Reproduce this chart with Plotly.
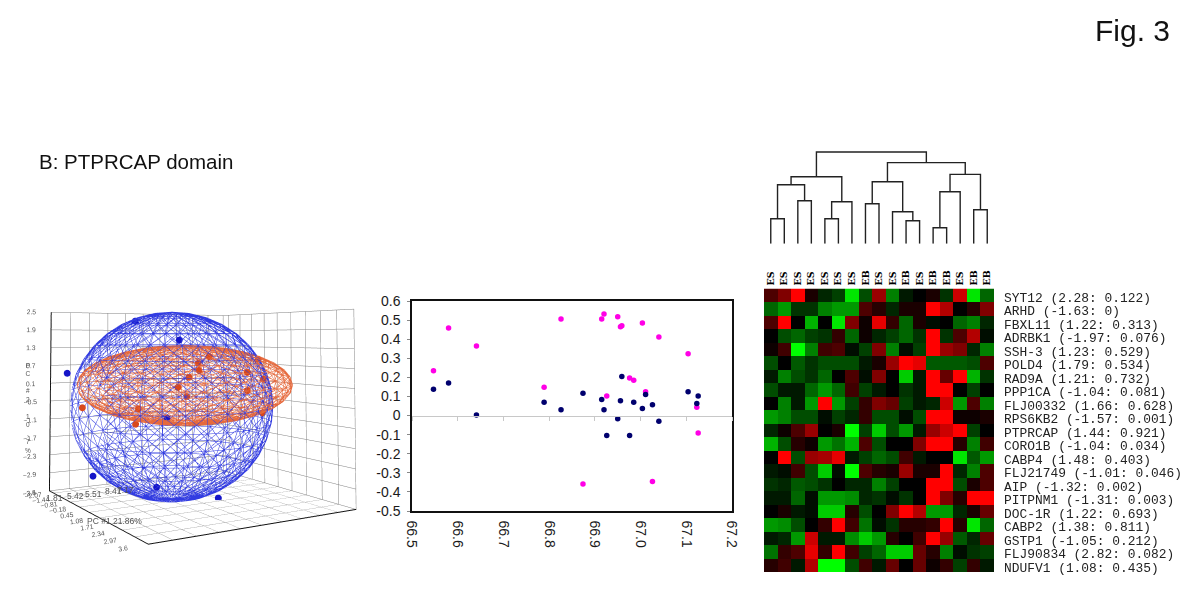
import numpy as np
import plotly.graph_objects as go

# ---------- data ----------
pc1_blue = [-0.207, 0.395, -1.14, -0.776, 0.088, 0.93, 0.225]
pc2_blue = [-1.67, -0.42, -3.59, -2.84, -1.05, 0.68, -0.76]
pc3_blue = [2.17, 1.56, 0.5, -2.76, -3.11, -3.45, -0.92]
pc1_orange = [-0.935, -0.196, -0.162, 0.509, 0.384, 0.532, 0.67, 0.657, 0.805, 1.475, 1.328, 1.544, 1.328, 1.532]
pc2_orange = [-3.15, -1.65, -1.57, -0.21, -0.46, -0.14, 0.14, 0.12, 0.43, 1.82, 1.51, 1.96, 1.51, 1.93]
pc3_orange = [-0.6, -1.12, -0.63, -0.24, 0.05, 0.37, 0.59, 0.82, 1.04, 0.95, 0.53, 0.31, -0.05, -0.76]
pc_x_ticks = [-2.4, -2.07, -1.44, -0.81, -0.18, 0.45, 1.08, 1.71, 2.34, 2.97, 3.6]
pc_z_ticks = [-3.5, -2.9, -2.3, -1.7, -1.1, -0.5, 0.1, 0.7, 1.3, 1.9, 2.5]
pc_y_tick_pos = [-3.42, -2.66, -1.95, -1.18, -0.72]
pc_y_tick_text = ["1.81", "5.42", "5.51", "8.41", "7.17"]

scatter_x = [66.547, 66.58, 66.641, 66.789, 66.826, 66.874, 66.915, 66.92, 66.926, 66.95, 66.956,
             66.959, 66.976, 66.985, 67.004, 67.011, 67.026, 67.04, 67.104, 67.123, 67.126]
magenta_y = [0.235, 0.459, 0.364, 0.148, 0.506, -0.359, 0.506, 0.532, 0.103, 0.518, 0.465,
             0.471, 0.197, 0.185, 0.485, 0.124, -0.345, 0.411, 0.324, 0.044, -0.091]
navy_y = [0.138, 0.171, 0.003, 0.070, 0.030, 0.117, 0.084, 0.030, -0.105, -0.017, 0.077,
          0.204, -0.105, 0.070, 0.037, 0.110, 0.056, -0.030, 0.124, 0.063, 0.103]
scatter_x_ticks = [66.5, 66.6, 66.7, 66.8, 66.9, 67.0, 67.1, 67.2]
scatter_y_ticks = [-0.5, -0.4, -0.3, -0.2, -0.1, 0, 0.1, 0.2, 0.3, 0.4, 0.5, 0.6]
scatter_y_text = ["-0.5", "-0.4", "-0.3", "-0.2", "-0.1", "0", "0.1", "0.2", "0.3", "0.4", "0.5", "0.6"]

columns = ["ES", "ES", "ES", "ES", "ES", "ES", "ES", "EB", "ES", "ES", "EB", "ES", "EB", "EB", "ES", "EB", "EB"]
genes = ["SYT12 (2.28: 0.122)", "ARHD (-1.63: 0)", "FBXL11 (1.22: 0.313)", "ADRBK1 (-1.97: 0.076)",
         "SSH-3 (1.23: 0.529)", "POLD4 (1.79: 0.534)", "RAD9A (1.21: 0.732)", "PPP1CA (-1.04: 0.081)",
         "FLJ00332 (1.66: 0.628)", "RPS6KB2 (-1.57: 0.001)", "PTPRCAP (1.44: 0.921)", "CORO1B (-1.04: 0.034)",
         "CABP4 (1.48: 0.403)", "FLJ21749 (-1.01: 0.046)", "AIP (-1.32: 0.002)", "PITPNM1 (-1.31: 0.003)",
         "DOC-1R (1.22: 0.693)", "CABP2 (1.38: 0.811)", "GSTP1 (-1.05: 0.212)", "FLJ90834 (2.82: 0.082)",
         "NDUFV1 (1.08: 0.435)"]
expression = [
    [3, 5, 10, 1, -1.5, -2.5, -9, -3, 6, -5, -1, 0, 1, -2, 8, -9, -4],
    [-4, -6, -2, -2, -5, -6, -6, 3, 1.5, -1.5, 1, 1, 10, 7, 0, 1.5, 5],
    [3, 10, 0, -7, 0, -9, 5, 0.5, 9, 2, -4, 1, -0.5, 0, -4, -5, -1.5],
    [0, -3, -4, -2.5, -2, 2, -4, 0.5, -1.5, -2.5, -4, -2, 10, -2, 3, 7, -0.5],
    [0.5, 2.5, -10, -5, 2.5, 3, -0.5, -2.5, 5, -5, -0.5, -2.5, 10, 6, 5, -1.5, -5],
    [-3, 0, -3.5, -2, -3, -3, -3, -1, 1, 6, 10, 9, -3.5, -3.5, -3.5, -3, 3],
    [-1, -5, -3, -2, -4, 0, 3, -0.5, 5, 0, -8, -1, 10, 4, 10, -7, -2],
    [-3, -1, -1, -4, -6, -4, 2.5, -2.5, -1, 0, -2, -1, 10, 10, 0, -2.5, 0],
    [0, -5, -1, -6, 10, -6, -2.5, 2, 5, 4, -2.5, -1, -1.5, 8, -6, 3, -5],
    [-6, -5, -3, -3, -0.5, -2.5, -1.5, 2, -3, -3, -0.5, -3, 10, 10, 0.5, 0.5, 1],
    [-1.5, 0.5, 3, 6, 0, 1, -10, -2.5, -8, -3, -6, -1, 6, 8, 10, -2.5, 0],
    [-7, -3, 1.5, 0.5, -6, -4.5, -7, 3, -3, 0, 0, 5, 10, 10, 1.5, -5, 2.5],
    [0, 10, -3, 6, 6.5, 9, -1, -2.5, -4, -3, 2.5, -1, 0, 0, -9, -3.5, -6],
    [-1, -0.5, 2.5, -3, -8, -0.5, -10, 3, 1.5, 1, 6, 1, 1, 10, -1.5, -5, 3],
    [-2, -1.5, -3.5, -3, -2, 0, -1.5, -1.5, -5, -2.5, 0, 0, 10, 10, -3, 1, 3],
    [-1, -1, -4, -0.5, -6, -6, -5.5, -1.5, -2, -0.5, -2, 0, 10, 5, 1.5, 10, 10],
    [0, 1, -1, -0.5, -8, -8, 1.5, -3, 0, 5, 10, 7, -6, -6, -1.5, 1, 4],
    [-6, -5.5, -3, 0, 2, 10, 2.5, -4.5, -0.5, -2, 1.5, 1.5, 2, 10, 1.5, -9, -4],
    [-1, -1.5, -6, 8, -1, -1, -5.5, -8, -6, 1.5, 0, 2.5, 10, 6, -3.5, -1.5, 4],
    [-4.5, 2, 3, 9, 2, 10, 2.5, -2.5, -4, -8, -8, 4, 1.5, -5, -0.5, -2, -2.5],
    [1.5, 2.5, -1, 7, -10, -10, -3, 2.5, -1, 4, 0, 4, 0.5, 2, -2.5, 2, -1],
]
# dendrogram merges: (left node, right node, height). Nodes 0-16 are leaves, 17+ earlier merges
merges = [
    (0, 1, 75), (2, 3, 129), (17, 18, 177), (4, 5, 75), (20, 6, 126), (19, 21, 201),
    (7, 8, 120), (10, 11, 69), (9, 24, 96), (23, 25, 186), (12, 13, 48), (27, 14, 156),
    (15, 16, 102), (28, 29, 208), (26, 30, 243), (22, 31, 275),
]

# ---------- figure ----------
W, H = 1200, 605
PAGE_OFFSET = 8  # the page body's default margin
def dom_x(a, b): return [max(a - PAGE_OFFSET, 0) / W, (b - PAGE_OFFSET) / W]
def dom_y(top, bottom): return [1 - (bottom - PAGE_OFFSET) / H, 1 - max(top - PAGE_OFFSET, 0) / H]
def px(a): return (a - PAGE_OFFSET) / W
def py(a): return 1 - (a - PAGE_OFFSET) / H

fig = go.Figure()

# 3D panel
def wire(cx, cy, cz, rx, ry, rz, n_lat, n_lon):
    xs, ys, zs = [], [], []
    lat = np.linspace(-np.pi / 2, np.pi / 2, n_lat + 1)
    lon = np.linspace(0, 2 * np.pi, n_lon + 1)
    def P(a, b):
        return (cx + rx * np.cos(a) * np.cos(b), cy + ry * np.cos(a) * np.sin(b), cz + rz * np.sin(a))
    def seg(p, q):
        xs.extend([p[0], q[0], None]); ys.extend([p[1], q[1], None]); zs.extend([p[2], q[2], None])
    for i in range(n_lat):
        for j in range(n_lon):
            a0, a1, b0, b1 = lat[i], lat[i + 1], lon[j], lon[j + 1]
            seg(P(a0, b0), P(a1, b0))
            seg(P(a1, b0), P(a1, b1))
            seg(P(a0, b0), P(a1, b1))
            seg(P(a0, b1), P(a1, b0))
    return xs, ys, zs

bx, by, bz = wire(0.293, -0.62, -0.52, 2.68, 3.32, 2.98, 18, 32)
fig.add_trace(go.Scatter3d(x=bx, y=by, z=bz, mode="lines", line=dict(color="rgb(50,60,225)", width=1),
                           hoverinfo="skip", scene="scene"))
ox, oy, oz = wire(0.475, -0.26, 0.146, 2.85, 3.52, 1.25, 16, 34)
fig.add_trace(go.Scatter3d(x=ox, y=oy, z=oz, mode="lines", line=dict(color="rgb(230,105,60)", width=1),
                           hoverinfo="skip", scene="scene"))
fig.add_trace(go.Scatter3d(x=pc1_blue, y=pc2_blue, z=pc3_blue, mode="markers",
                           marker=dict(color="#1414c8", size=4), scene="scene"))
fig.add_trace(go.Scatter3d(x=pc1_orange, y=pc2_orange, z=pc3_orange, mode="markers",
                           marker=dict(color="#d8481c", size=4), scene="scene"))

axis3d = dict(showbackground=True, backgroundcolor="#ffffff", gridcolor="#808080", linecolor="#111111",
              showline=True, linewidth=2, zeroline=False, title=dict(text=""), ticks="", showspikes=False,
              tickfont=dict(family="Liberation Sans", size=9, color="#555555"))
scene_annots = [dict(x=-2.39, y=v, z=-3.49, text=t, showarrow=False, yshift=-8,
                     font=dict(family="Liberation Sans", size=8.5, color="#555555"))
                for v, t in zip(pc_y_tick_pos, pc_y_tick_text)]
fig.update_layout(scene=dict(
    domain=dict(x=[0, 372 / W], y=[1 - 589 / H, 1]),
    xaxis=dict(axis3d, range=[-2.4, 3.6], tickvals=pc_x_ticks),
    yaxis=dict(axis3d, range=[-3.6, 3.6], dtick=0.72, showticklabels=False),
    zaxis=dict(axis3d, range=[-3.5, 2.5], tickvals=pc_z_ticks),
    aspectmode="manual", aspectratio=dict(x=0.95, y=0.92, z=0.79),
    camera=dict(eye=dict(x=2.58, y=-1.55, z=0.28), center=dict(x=0, y=0, z=0.43)),
    annotations=scene_annots,
))

# scatter panel
fig.add_trace(go.Scatter(x=scatter_x, y=magenta_y, mode="markers", xaxis="x", yaxis="y",
                         marker=dict(color="#ff00e6", size=5.5)))
fig.add_trace(go.Scatter(x=scatter_x, y=navy_y, mode="markers", xaxis="x", yaxis="y",
                         marker=dict(color="#00006e", size=5.5)))
sc_top, sc_bottom = 301, 511
tickfont = dict(family="Liberation Sans", size=14, color="#1a1a1a")
fig.update_layout(
    xaxis=dict(domain=dom_x(412, 732), range=[66.5, 67.2], tickvals=scatter_x_ticks, ticktext=[f"{v:.1f}" for v in scatter_x_ticks],
               tickangle=90, tickfont=tickfont, showgrid=False, zeroline=False, ticks="", anchor="y", ticklabelstandoff=5,
               showline=True, linecolor="#111111", linewidth=1.5, mirror=True, ticklen=0),
    yaxis=dict(domain=dom_y(sc_top, sc_bottom), range=[-0.5, 0.6], tickvals=scatter_y_ticks, ticktext=scatter_y_text,
               tickfont=tickfont, showgrid=False, zeroline=False, ticks="outside", ticklen=3, tickcolor="#888888",
               ticklabelstandoff=4, anchor="x", showline=True, linecolor="#111111", linewidth=1.5, mirror=True),
    # gray category axis crossing at y = 0
    xaxis2=dict(overlaying="x", matches="x", domain=dom_x(412, 732), anchor="free",
                position=py(sc_top + (sc_bottom - sc_top) * 0.6 / 1.1), side="bottom",
                tickvals=scatter_x_ticks, showticklabels=False, ticks="outside", ticklen=4, tickcolor="#c8c8c8",
                showline=True, linecolor="#c8c8c8", linewidth=1, showgrid=False, zeroline=False),
)
fig.add_trace(go.Scatter(x=[66.5, 67.2], y=[None, None], xaxis="x2", yaxis="y", mode="lines", hoverinfo="skip"))

# heatmap
fig.add_trace(go.Heatmap(z=expression, xaxis="x3", yaxis="y3", zmin=-10, zmax=10, showscale=False,
                         xgap=0, ygap=0,
                         colorscale=[[0, "#00ff00"], [0.5, "#000000"], [1, "#ff0000"]]))
hm_left, hm_right, hm_top, hm_bottom = 764, 994, 288.5, 572
fig.update_layout(
    xaxis3=dict(domain=dom_x(hm_left, hm_right), range=[-0.5, 16.5], anchor="y3", side="top",
                tickmode="array", tickvals=list(range(17)), ticktext=[f"<b>{c}</b>" for c in columns],
                tickangle=-90, ticks="", ticklen=0, ticklabelstandoff=2,
                tickfont=dict(family="DejaVu Serif", size=9.5, color="#000000"), showgrid=False, zeroline=False),
    yaxis3=dict(domain=dom_y(hm_top, hm_bottom), range=[20.5, -0.5], anchor="x3", visible=False),
)
annots = []
for i, g in enumerate(genes):
    annots.append(dict(xref="paper", yref="y3", x=px(1002), y=i, yshift=-3, text=g, showarrow=False, xanchor="left",
                       font=dict(family="Liberation Mono", size=12.9, color="#222222")))

# dendrogram
pos = {i: (float(i), 0.0) for i in range(17)}
dx, dy = [], []
for k, (a, b, h) in enumerate(merges):
    xa, ya = pos[a]
    xb, yb = pos[b]
    dx.extend([xa, xa, xb, xb, None]); dy.extend([ya, h, h, yb, None])
    pos[17 + k] = ((xa + xb) / 2, h)
fig.add_trace(go.Scatter(x=dx, y=dy, mode="lines", xaxis="x4", yaxis="y4", hoverinfo="skip",
                         line=dict(color="#222222", width=1.4)))
fig.update_layout(
    xaxis4=dict(domain=dom_x(hm_left, hm_right), range=[-0.5, 16.5], anchor="y4", visible=False),
    yaxis4=dict(domain=dom_y(150, 243.7), range=[0, 281], anchor="x4", visible=False),
)

annots += [
    dict(xref="paper", yref="paper", x=px(1172), y=py(30), text="Fig. 3", showarrow=False, xanchor="right", yanchor="middle",
         font=dict(family="Liberation Sans", size=30, color="#111111")),
    dict(xref="paper", yref="paper", x=px(37), y=py(162), text="B: PTPRCAP domain", showarrow=False, xanchor="left", yanchor="middle",
         font=dict(family="Liberation Sans", size=20.5, color="#111111")),
    dict(xref="paper", yref="paper", x=px(23), y=py(408), text="P<br>C<br><br>#<br>2<br><br>1<br>0<br>.<br>7<br>%",
         showarrow=False, font=dict(family="Liberation Sans", size=6.5, color="#555555")),
    dict(xref="paper", yref="paper", x=px(85), y=py(528), text="PC #1 21.86%",
         showarrow=False, font=dict(family="Liberation Sans", size=8.5, color="#555555")),
]
fig.update_layout(width=W, height=H, margin=dict(l=0, r=0, t=0, b=0), showlegend=False, template="none",
                  paper_bgcolor="white", plot_bgcolor="white", annotations=annots)
fig.write_html("out.html")
